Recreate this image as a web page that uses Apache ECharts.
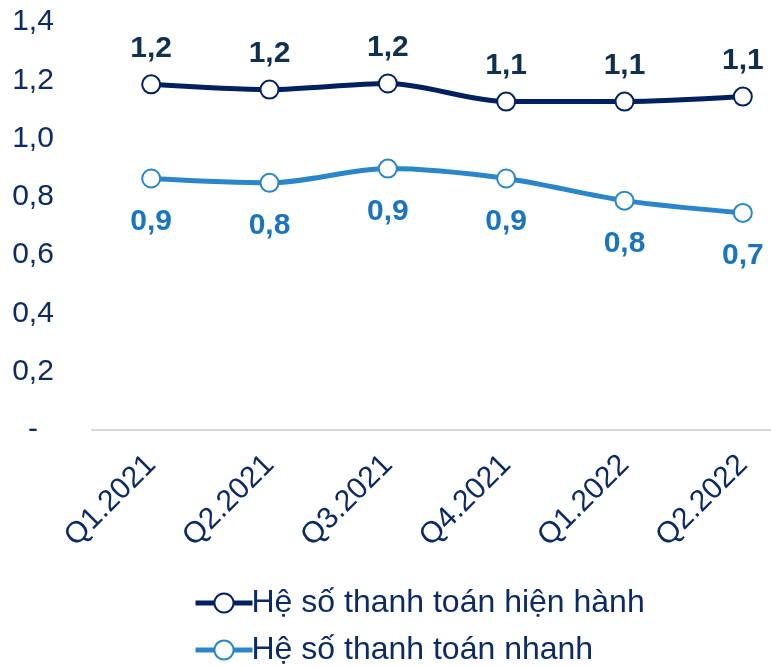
<!DOCTYPE html>
<html>
<head>
<meta charset="utf-8">
<script src="https://cdn.jsdelivr.net/npm/echarts@6/dist/echarts.min.js"></script>
<style>
  html, body { margin: 0; padding: 0; background: #fff; }
  #chart { width: 771px; height: 667px; }
</style>
</head>
<body>
<div id="chart"></div>
<script>
// du lieu doc tu hinh
const quarters = ['Q1.2021', 'Q2.2021', 'Q3.2021', 'Q4.2021', 'Q1.2022', 'Q2.2022'];
const hienHanh = [1.186, 1.168, 1.189, 1.127, 1.127, 1.144];
const nhanh = [0.863, 0.848, 0.897, 0.863, 0.787, 0.745];
const yTicks = ['-', '0,2', '0,4', '0,6', '0,8', '1,0', '1,2', '1,4'];
const seriesNames = ['Hệ số thanh toán hiện hành', 'Hệ số thanh toán nhanh'];

const textColor = '#0c2a63';
const darkLine = '#002060';
const lightLine = '#2a86c8';

function fmt(v) {
    return v.toFixed(1).replace('.', ',');
}

function legendRow(name, top) {
    return {
        data: [name],
        left: 193,
        top: top,
        padding: 0,
        itemWidth: 57,
        itemHeight: 24,
        lineStyle: { width: 5 },
        textStyle: { fontSize: 32, color: textColor, padding: [0, 0, 0, -6] }
    };
}

const chart = echarts.init(document.getElementById('chart'));

const option = {
    animation: false,
    textStyle: { fontFamily: 'Liberation Sans, Arial, sans-serif' },
    grid: {
        left: 92,
        top: 22,
        width: 710,
        height: 408,
        outerBoundsMode: 'none'
    },
    legend: [
        legendRow(seriesNames[0], 587),
        legendRow(seriesNames[1], 634)
    ],
    xAxis: {
        type: 'category',
        data: quarters,
        boundaryGap: true,
        axisLine: { lineStyle: { color: '#d9d9d9', width: 2 } },
        axisTick: { show: false },
        axisLabel: {
            rotate: 45,
            margin: 30,
            fontSize: 30,
            color: textColor,
            interval: 0
        }
    },
    yAxis: {
        type: 'value',
        min: 0,
        max: 1.4,
        interval: 0.2,
        splitLine: { show: false },
        axisLine: { show: false },
        axisLabel: {
            margin: 59,
            align: 'center',
            fontSize: 30,
            color: textColor,
            formatter: function (v) {
                return yTicks[Math.round(v / 0.2)];
            }
        }
    },
    series: [
        {
            name: seriesNames[0],
            type: 'line',
            data: hienHanh,
            smooth: 0.3,
            symbol: 'circle',
            symbolSize: 18,
            lineStyle: { color: darkLine, width: 5 },
            itemStyle: { color: '#fff', borderColor: darkLine, borderWidth: 2 },
            label: {
                show: true,
                position: 'top',
                distance: 11,
                fontSize: 30,
                fontWeight: 'bold',
                color: '#10304f',
                formatter: function (p) { return fmt(p.value); }
            }
        },
        {
            name: seriesNames[1],
            type: 'line',
            data: nhanh,
            smooth: 0.3,
            symbol: 'circle',
            symbolSize: 18,
            lineStyle: { color: lightLine, width: 5 },
            itemStyle: { color: '#fff', borderColor: lightLine, borderWidth: 2 },
            label: {
                show: true,
                position: 'bottom',
                distance: 18,
                fontSize: 30,
                fontWeight: 'bold',
                color: '#1a75bd',
                formatter: function (p) { return fmt(p.value); }
            }
        }
    ]
};

chart.setOption(option);
</script>
</body>
</html>
